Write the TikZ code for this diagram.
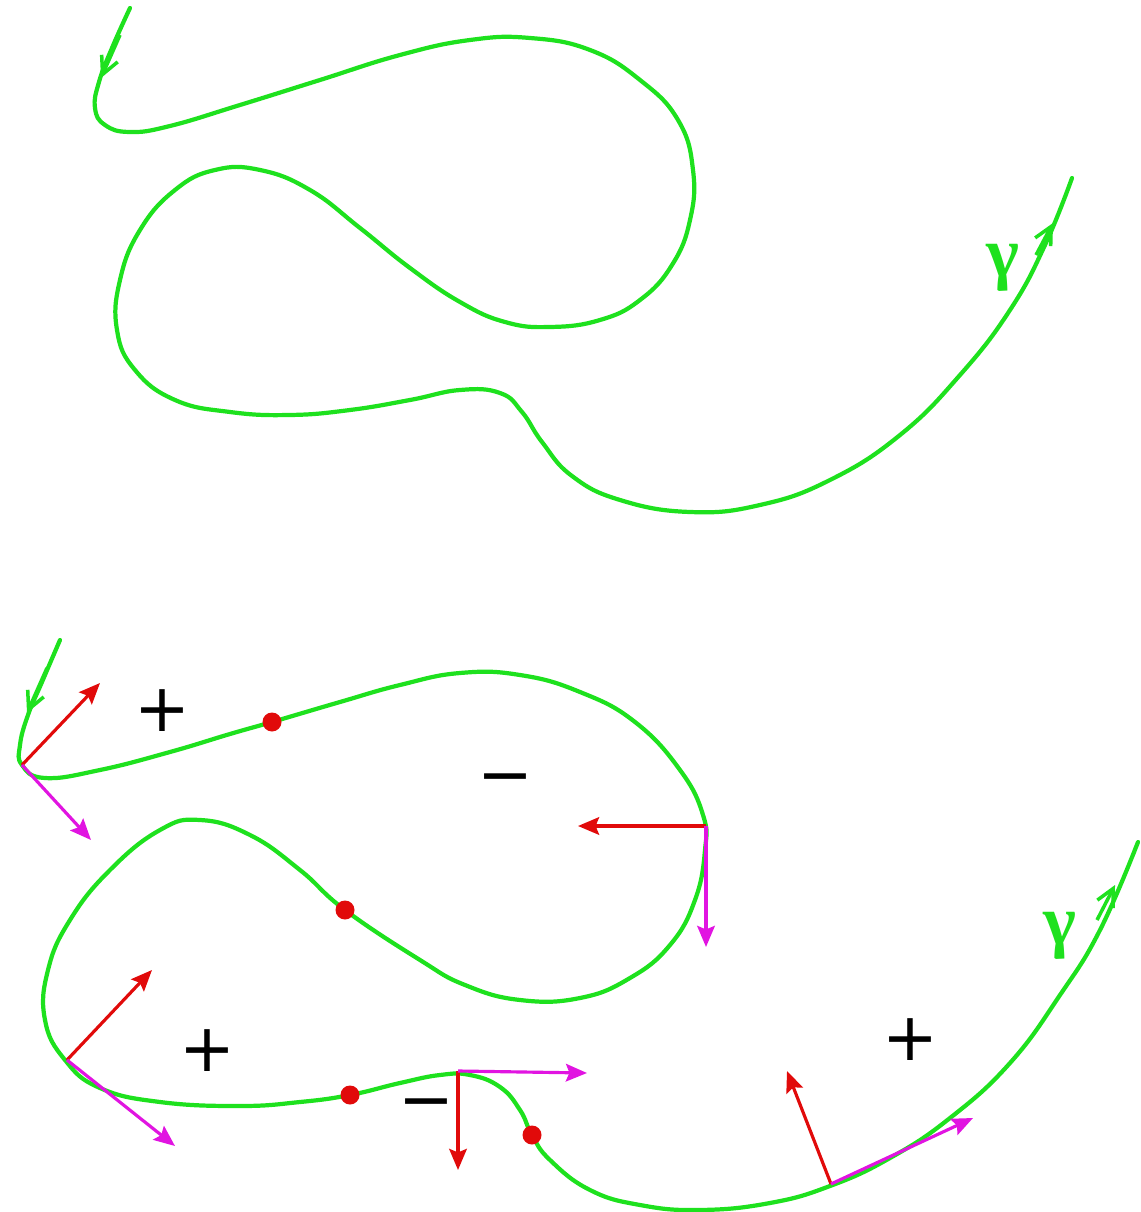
\documentclass[tikz,border=0pt]{standalone}
\usepackage{fontspec}
\newfontfamily\signfont{DejaVu Sans}
\newfontfamily\gammafont{Liberation Serif}
\usetikzlibrary{arrows.meta}
\definecolor{cgreen}{RGB}{30,225,30}
\definecolor{cred}{RGB}{225,10,10}
\definecolor{cmag}{RGB}{225,20,225}
\tikzset{
  curve/.style={draw=cgreen, line width=2.4pt, line cap=round, line join=round},
  barb/.style={cgreen, line width=2pt, -{Straight Barb[length=10pt,width=10pt]}},
  redvec/.style={draw=cred, line width=1.8pt, -{Stealth[length=12pt,width=10pt,inset=2pt]}},
  magvec/.style={draw=cmag, line width=1.8pt, -{Stealth[length=12pt,width=10pt,inset=2pt]}},
  sign/.style={font=\signfont\fontsize{38}{38}\selectfont, inner sep=0pt},
  glab/.style={text=cgreen, font=\gammafont\bfseries\fontsize{40}{40}\selectfont, inner sep=0pt},
  dot/.style={fill=cred}
}
\begin{document}
\begin{tikzpicture}[x=0.02cm, y=-0.02cm]
\useasboundingbox (0,0) rectangle (1140,1212);
% ---------- top curve ----------
\draw[curve] plot[smooth, tension=0.75] coordinates {
(130,8) (112,48) (99,82) (95,108) (105,125) (130,132) (170,126) (240,105) (320,80)
(400,55) (470,40) (530,38) (590,50) (640,80) (678,120) (693,170) (690,220) (672,265)
(640,300) (600,320) (550,327) (505,322) (460,302) (410,268) (360,228) (310,190)
(260,170) (215,170) (175,190) (140,230) (120,280) (117,330) (135,370) (175,400)
(230,412) (290,415) (350,410) (410,400) (460,390) (500,393) (522,412) (542,442)
(572,476) (620,500) (690,512) (760,505) (830,480) (900,435) (960,375) (1010,310)
(1045,245) (1072,178)};
\coordinate (ta1) at (120,35); \coordinate (ta2) at (101,78);
\draw[barb] (ta1) -- (ta2);
\coordinate (tg1) at (1036,255); \coordinate (tg2) at (1053,223);
\draw[barb] (tg1) -- (tg2);
\node[glab] (gtop) at (1003,268) {γ};
% ---------- bottom curve ----------
\draw[curve] plot[smooth, tension=0.75] coordinates {
(60,640) (42,682) (28,715) (20,745) (22,765) (45,778) (100,770) (170,752) (230,734)
(272,722) (340,702) (400,685) (460,673) (520,675) (580,692) (635,722) (680,770)
(703,815) (705,850) (695,900) (670,945) (630,978) (580,998) (520,1000) (465,985)
(420,960) (345,910) (300,870) (250,835) (200,820) (160,830) (110,870) (70,920)
(48,970) (45,1020) (65,1060) (100,1088) (160,1102) (240,1106) (300,1102) (350,1095)
(400,1083) (440,1075) (470,1075) (500,1087) (520,1110) (532,1135) (550,1160)
(590,1190) (640,1205) (700,1210) (770,1203) (830,1186) (890,1158) (950,1118)
(1010,1063) (1060,995) (1100,930) (1138,842)};
\coordinate (ba1) at (47,668); \coordinate (ba2) at (27,713);
\draw[barb] (ba1) -- (ba2);
\coordinate (bg1) at (1097,920); \coordinate (bg2) at (1115,885);
\draw[barb] (bg1) -- (bg2);
\node[glab] (gbot) at (1060,936) {γ};
% ---------- red dots ----------
\fill[dot] (272,722) circle[radius=0.19cm];
\fill[dot] (345,910) circle[radius=0.19cm];
\fill[dot] (350,1095) circle[radius=0.19cm];
\fill[dot] (532,1135) circle[radius=0.19cm];
% ---------- frame vectors ----------
\coordinate (p1) at (22,765);  \coordinate (r1) at (100,683); \coordinate (m1) at (91,840);
\coordinate (p2) at (706,826); \coordinate (r2) at (578,826); \coordinate (m2) at (706,947);
\coordinate (p3) at (67,1060); \coordinate (r3) at (152,970); \coordinate (m3) at (175,1146);
\coordinate (p4) at (458,1071); \coordinate (r4) at (458,1170); \coordinate (m4) at (587,1073);
\coordinate (p5) at (831,1184); \coordinate (r5) at (787,1071); \coordinate (m5) at (973,1118);
\foreach \i in {1,...,5}{
  \draw[redvec] (p\i) -- (r\i);
  \draw[magvec] (p\i) -- (m\i);
}
% ---------- signs ----------
\node[sign] (s1) at (162,711) {+};
\node[sign] (s2) at (505,786) {−};
\node[sign] (s3) at (207,1051) {+};
\node[sign] (s4) at (426,1111) {−};
\node[sign] (s5) at (910,1040) {+};
\end{tikzpicture}
\end{document}
